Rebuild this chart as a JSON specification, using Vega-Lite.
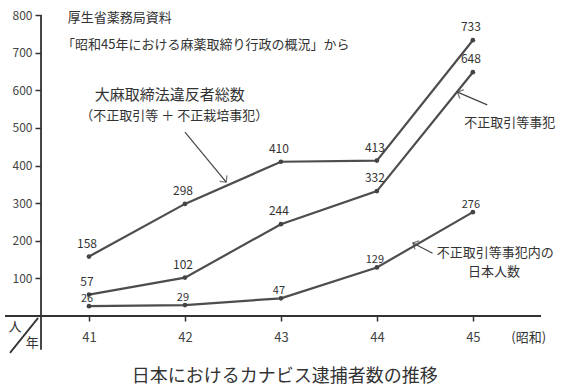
{
  "$schema": "https://vega.github.io/schema/vega-lite/v6.json",
  "width": 500,
  "height": 301,
  "autosize": "none",
  "padding": {"left": 41, "top": 15, "right": 21, "bottom": 74},
  "background": "#ffffff",
  "config": {"view": {"stroke": null}, "font": "Noto Sans CJK JP"},
  "datasets": {
    "series": [
      {"year": 41, "series": "総数", "value": 158},
      {"year": 42, "series": "総数", "value": 298},
      {"year": 43, "series": "総数", "value": 410},
      {"year": 44, "series": "総数", "value": 413},
      {"year": 45, "series": "総数", "value": 733},
      {"year": 41, "series": "不正取引等事犯", "value": 57},
      {"year": 42, "series": "不正取引等事犯", "value": 102},
      {"year": 43, "series": "不正取引等事犯", "value": 244},
      {"year": 44, "series": "不正取引等事犯", "value": 332},
      {"year": 45, "series": "不正取引等事犯", "value": 648},
      {"year": 41, "series": "日本人数", "value": 26},
      {"year": 42, "series": "日本人数", "value": 29},
      {"year": 43, "series": "日本人数", "value": 47},
      {"year": 44, "series": "日本人数", "value": 129},
      {"year": 45, "series": "日本人数", "value": 276}
    ]
  },
  "layer": [
    {
      "data": {"name": "series"},
      "mark": {"type": "line", "color": "#4d4d4d", "strokeWidth": 2.2},
      "encoding": {
        "x": {"field": "year", "type": "quantitative",
              "scale": {"domain": [40.5, 45.71], "nice": false, "zero": false},
              "axis": {"values": [41, 42, 43, 44, 45], "format": "d", "title": null, "domain": false, "grid": false,
                       "tickColor": "#333", "tickSize": 5, "tickWidth": 1.5, "labelColor": "#444",
                       "labelFontSize": 13, "labelPadding": 10, "labelFont": "Noto Sans CJK JP"}},
        "y": {"field": "value", "type": "quantitative",
              "scale": {"domain": [0, 800], "nice": false},
              "axis": {"values": [100, 200, 300, 400, 500, 600, 700, 800], "title": null, "domain": false, "grid": false,
                       "tickColor": "#333", "tickSize": 6, "tickWidth": 1.5, "labelColor": "#444",
                       "labelFontSize": 12, "labelPadding": 3, "labelFont": "Noto Sans CJK JP"}},
        "detail": {"field": "series"}
      }
    },
    {
      "data": {"name": "series"},
      "mark": {"type": "point", "filled": true, "size": 22, "color": "#444", "opacity": 1},
      "encoding": {
        "x": {"field": "year", "type": "quantitative"},
        "y": {"field": "value", "type": "quantitative"}
      }
    },
    {
      "data": {"name": "series"},
      "transform": [{"filter": "datum.series !== '日本人数'"}],
      "mark": {"type": "text", "dy": -13, "dx": -2, "fontSize": 12, "color": "#333"},
      "encoding": {
        "x": {"field": "year", "type": "quantitative"},
        "y": {"field": "value", "type": "quantitative"},
        "text": {"field": "value", "type": "quantitative"}
      }
    },
    {
      "data": {"name": "series"},
      "transform": [{"filter": "datum.series === '日本人数'"}],
      "mark": {"type": "text", "dy": -7, "dx": -2, "fontSize": 11, "color": "#333"},
      "encoding": {
        "x": {"field": "year", "type": "quantitative"},
        "y": {"field": "value", "type": "quantitative"},
        "text": {"field": "value", "type": "quantitative"}
      }
    },
    {
      "data": {"values": [
        {"year": 40.125, "value": 0, "year2": 45.71, "value2": 0},
        {"year": 40.5, "value": -90, "year2": 40.5, "value2": 800},
        {"year": 40.177, "value": -98, "year2": 40.47, "value2": -5}
      ]},
      "mark": {"type": "rule", "color": "#333", "strokeWidth": 1.8},
      "encoding": {
        "x": {"field": "year", "type": "quantitative"},
        "y": {"field": "value", "type": "quantitative"},
        "x2": {"field": "year2"},
        "y2": {"field": "value2"}
      }
    },
    {
      "data": {"values": [
        {"year": 42.0, "value": 489, "year2": 42.43, "value2": 356},
        {"year": 45.15, "value": 561, "year2": 44.84, "value2": 595},
        {"year": 44.58, "value": 167, "year2": 44.375, "value2": 194}
      ]},
      "mark": {"type": "rule", "color": "#444", "strokeWidth": 1.2},
      "encoding": {
        "x": {"field": "year", "type": "quantitative"},
        "y": {"field": "value", "type": "quantitative"},
        "x2": {"field": "year2"},
        "y2": {"field": "value2"}
      }
    },
    {
      "data": {"values": [{"year": 42.43, "value": 356}]},
      "mark": {"type": "point", "shape": "M-1,-1L0,0L-1,1", "filled": false, "stroke": "#444", "strokeWidth": 1.3, "size": 90, "angle": 50.6},
      "encoding": {"x": {"field": "year", "type": "quantitative"}, "y": {"field": "value", "type": "quantitative"}}
    },
    {
      "data": {"values": [{"year": 44.84, "value": 595}]},
      "mark": {"type": "point", "shape": "M-1,-1L0,0L-1,1", "filled": false, "stroke": "#444", "strokeWidth": 1.3, "size": 90, "angle": 204},
      "encoding": {"x": {"field": "year", "type": "quantitative"}, "y": {"field": "value", "type": "quantitative"}}
    },
    {
      "data": {"values": [{"year": 44.375, "value": 194}]},
      "mark": {"type": "point", "shape": "M-1,-1L0,0L-1,1", "filled": false, "stroke": "#444", "strokeWidth": 1.3, "size": 90, "angle": 206.6},
      "encoding": {"x": {"field": "year", "type": "quantitative"}, "y": {"field": "value", "type": "quantitative"}}
    },
    {
      "data": {"values": [
        {"year": 40.78, "value": 792, "label": "厚生省薬務局資料"},
        {"year": 40.72, "value": 720, "label": "「昭和45年における麻薬取締り行政の概況」から"},
        {"year": 40.91, "value": 532, "label": "（不正取引等 ＋ 不正栽培事犯）"},
        {"year": 44.91, "value": 513, "label": "不正取引等事犯"},
        {"year": 44.625, "value": 167, "label": "不正取引等事犯内の"},
        {"year": 44.95, "value": 117, "label": "日本人数"},
        {"year": 45.4, "value": -58, "label": "(昭和)"}
      ]},
      "mark": {"type": "text", "align": "left", "baseline": "middle", "fontSize": 13, "color": "#333"},
      "encoding": {
        "x": {"field": "year", "type": "quantitative"},
        "y": {"field": "value", "type": "quantitative"},
        "text": {"field": "label"}
      }
    },
    {
      "data": {"values": [
        {"year": 41.06, "value": 587, "label": "大麻取締法違反者総数"}
      ]},
      "mark": {"type": "text", "align": "left", "baseline": "middle", "fontSize": 15, "color": "#333"},
      "encoding": {
        "x": {"field": "year", "type": "quantitative"},
        "y": {"field": "value", "type": "quantitative"},
        "text": {"field": "label"}
      }
    },
    {
      "data": {"values": [
        {"year": 40.23, "value": -29, "label": "人"},
        {"year": 40.41, "value": -72, "label": "年"}
      ]},
      "mark": {"type": "text", "align": "center", "baseline": "middle", "fontSize": 13, "color": "#333"},
      "encoding": {
        "x": {"field": "year", "type": "quantitative"},
        "y": {"field": "value", "type": "quantitative"},
        "text": {"field": "label"}
      }
    },
    {
      "data": {"values": [
        {"year": 43.04, "value": -162, "label": "日本におけるカナビス逮捕者数の推移"}
      ]},
      "mark": {"type": "text", "align": "center", "baseline": "middle", "fontSize": 18, "color": "#333"},
      "encoding": {
        "x": {"field": "year", "type": "quantitative"},
        "y": {"field": "value", "type": "quantitative"},
        "text": {"field": "label"}
      }
    }
  ]
}
